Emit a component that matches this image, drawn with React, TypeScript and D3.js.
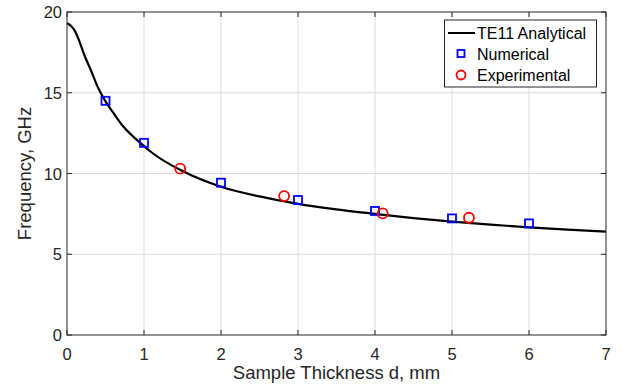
import React, { useRef, useEffect } from "react";
import * as d3 from "d3";

// TE11 analytical curve
const analyticX = [0, 0.05, 0.1, 0.16, 0.22, 0.31, 0.4, 0.5, 0.61, 0.74, 0.87, 1, 1.1, 1.5, 2, 2.5, 3, 3.5, 4, 4.5, 5, 5.5, 6, 6.5, 7];
const analyticY = [19.3, 19.15, 18.85, 18.2, 17.4, 16.4, 15.35, 14.47, 13.7, 12.86, 12.24, 11.7, 11.3, 10.15, 9.18, 8.58, 8.12, 7.78, 7.5, 7.24, 7.02, 6.83, 6.67, 6.53, 6.4];

const numericalX = [0.5, 1, 2, 3, 4, 5, 6];
const numericalY = [14.5, 11.9, 9.43, 8.36, 7.68, 7.22, 6.91];

const experimentalX = [1.47, 2.82, 4.1, 5.22];
const experimentalY = [10.3, 8.6, 7.53, 7.26];

const xTicks = [0, 1, 2, 3, 4, 5, 6, 7];
const yTicks = [0, 5, 10, 15, 20];

const FONT = "Arial, 'Liberation Sans', Helvetica, sans-serif";

const FrequencyChart: React.FC<{ width?: number; height?: number }> = ({ width = 623, height = 385 }) => {
  const svgRef = useRef<SVGSVGElement | null>(null);
  const margin = { top: 12, right: 17, bottom: 50, left: 67 };

  useEffect(() => {
    const svg = d3.select(svgRef.current);
    svg.selectAll("*").remove();

    const x = d3.scaleLinear().domain([0, 7]).range([margin.left, width - margin.right]);
    const y = d3.scaleLinear().domain([0, 20]).range([height - margin.bottom, margin.top]);
    const [x0, x1] = x.range();
    const [y0, y1] = y.range();

    svg.append("rect").attr("width", width).attr("height", height).attr("fill", "#fff");

    // grid
    const grid = svg.append("g").attr("stroke", "#dcdcdc").attr("stroke-width", 1);
    xTicks.slice(1, -1).forEach((t) => {
      grid.append("line").attr("x1", x(t)).attr("x2", x(t)).attr("y1", y0).attr("y2", y1);
    });
    yTicks.slice(1, -1).forEach((t) => {
      grid.append("line").attr("x1", x0).attr("x2", x1).attr("y1", y(t)).attr("y2", y(t));
    });

    // analytical line
    const line = d3
      .line<number>()
      .x((d, i) => x(analyticX[i]))
      .y((d) => y(d))
      .curve(d3.curveMonotoneX);
    svg
      .append("path")
      .attr("d", line(analyticY))
      .attr("fill", "none")
      .attr("stroke", "#000")
      .attr("stroke-width", 2.2);

    // numerical markers
    svg
      .append("g")
      .selectAll("rect")
      .data(numericalY)
      .enter()
      .append("rect")
      .attr("x", (d, i) => x(numericalX[i]) - 4)
      .attr("y", (d) => y(d) - 4)
      .attr("width", 8)
      .attr("height", 8)
      .attr("fill", "none")
      .attr("stroke", "#0000ff")
      .attr("stroke-width", 1.8);

    // experimental markers
    svg
      .append("g")
      .selectAll("circle")
      .data(experimentalY)
      .enter()
      .append("circle")
      .attr("cx", (d, i) => x(experimentalX[i]))
      .attr("cy", (d) => y(d))
      .attr("r", 5)
      .attr("fill", "none")
      .attr("stroke", "#ff0000")
      .attr("stroke-width", 1.8);

    // box + ticks
    const axes = svg.append("g").attr("stroke", "#262626").attr("stroke-width", 1);
    axes
      .append("rect")
      .attr("x", x0)
      .attr("y", y1)
      .attr("width", x1 - x0)
      .attr("height", y0 - y1)
      .attr("fill", "none");
    xTicks.forEach((t) => {
      axes.append("line").attr("x1", x(t)).attr("x2", x(t)).attr("y1", y0).attr("y2", y0 - 5);
      axes.append("line").attr("x1", x(t)).attr("x2", x(t)).attr("y1", y1).attr("y2", y1 + 5);
    });
    yTicks.forEach((t) => {
      axes.append("line").attr("x1", x0).attr("x2", x0 + 5).attr("y1", y(t)).attr("y2", y(t));
      axes.append("line").attr("x1", x1).attr("x2", x1 - 5).attr("y1", y(t)).attr("y2", y(t));
    });

    const labels = svg.append("g").attr("font-family", FONT).attr("fill", "#262626").attr("font-size", 16.5);
    xTicks.forEach((t) => {
      labels
        .append("text")
        .attr("x", x(t))
        .attr("y", y0 + 25)
        .attr("text-anchor", "middle")
        .text(t);
    });
    yTicks.forEach((t) => {
      labels
        .append("text")
        .attr("x", x0 - 5)
        .attr("y", y(t) + 6)
        .attr("text-anchor", "end")
        .text(t);
    });

    labels
      .append("text")
      .attr("x", (x0 + x1) / 2)
      .attr("y", height - 6)
      .attr("text-anchor", "middle")
      .attr("font-size", 18.5)
      .text("Sample Thickness d, mm");
    labels
      .append("text")
      .attr("transform", `translate(31,${(y0 + y1) / 2}) rotate(-90)`)
      .attr("text-anchor", "middle")
      .attr("font-size", 18.5)
      .text("Frequency, GHz");

    // legend
    const lg = svg.append("g").attr("font-family", FONT).attr("font-size", 16).attr("fill", "#000");
    lg.append("rect")
      .attr("x", 444.5)
      .attr("y", 20)
      .attr("width", 152)
      .attr("height", 67)
      .attr("fill", "#fff")
      .attr("stroke", "#262626");
    lg.append("line").attr("x1", 448).attr("x2", 475).attr("y1", 33).attr("y2", 33).attr("stroke", "#000").attr("stroke-width", 2);
    lg.append("text").attr("x", 477).attr("y", 39).text("TE11 Analytical");
    lg.append("rect")
      .attr("x", 457.5)
      .attr("y", 50)
      .attr("width", 7)
      .attr("height", 7)
      .attr("fill", "none")
      .attr("stroke", "#0000ff")
      .attr("stroke-width", 1.8);
    lg.append("text").attr("x", 477).attr("y", 59.5).text("Numerical");
    lg.append("circle")
      .attr("cx", 461)
      .attr("cy", 75)
      .attr("r", 4.5)
      .attr("fill", "none")
      .attr("stroke", "#ff0000")
      .attr("stroke-width", 1.8);
    lg.append("text").attr("x", 477).attr("y", 81).text("Experimental");
  }, [width, height]);

  return <svg ref={svgRef} width={width} height={height} style={{ display: "block", position: "absolute", left: 0, top: 0 }} />;
};

export default function App() {
  return <FrequencyChart />;
}
